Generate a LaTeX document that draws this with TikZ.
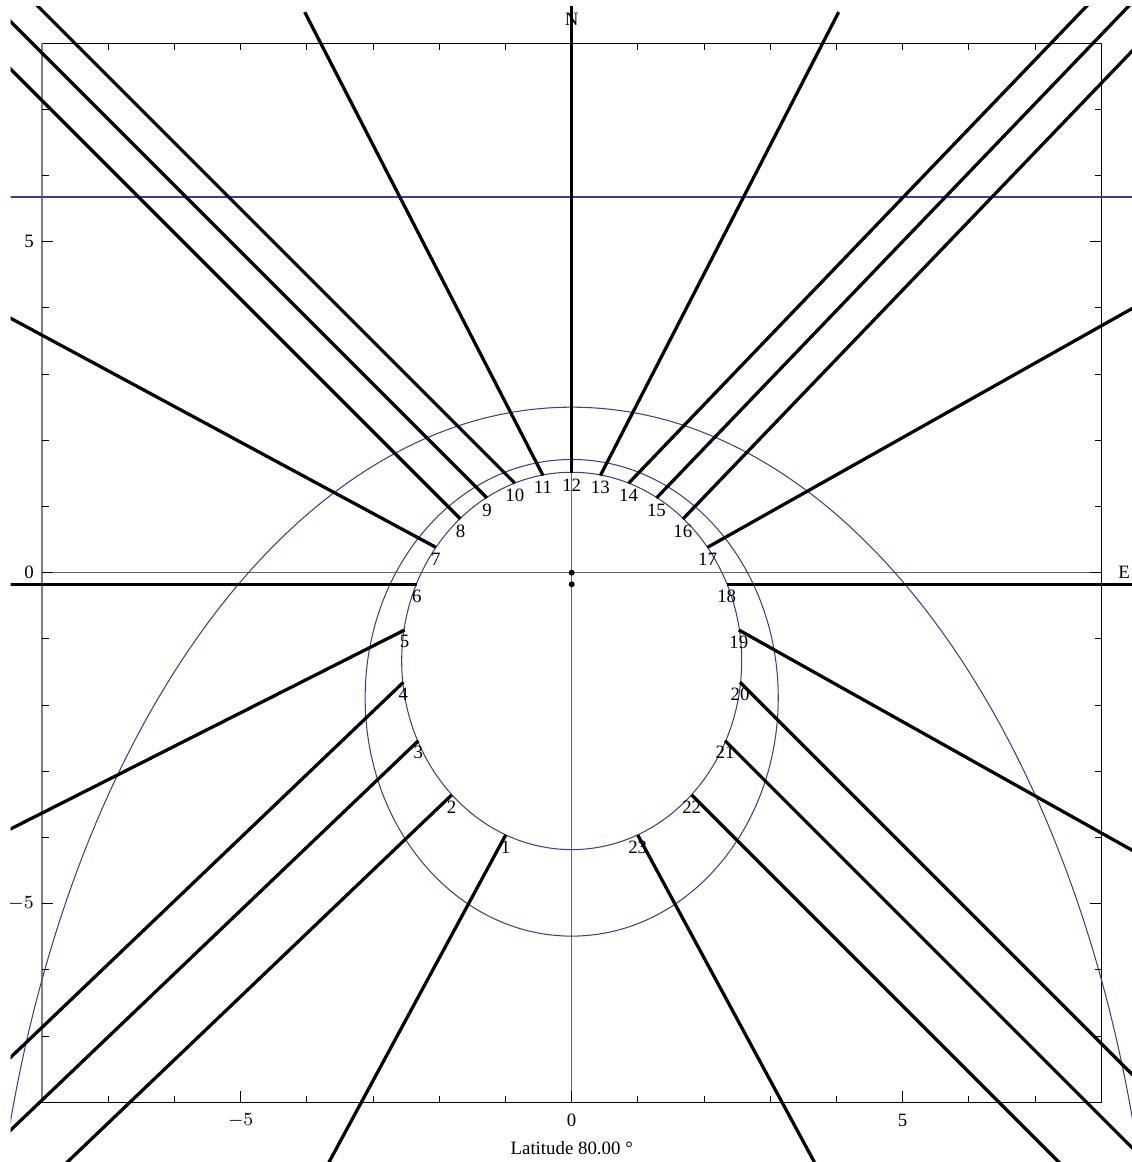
\documentclass[tikz,border=0pt]{standalone}
\usepackage{fontspec}
\setmainfont{Liberation Serif}
\usetikzlibrary{positioning}
\definecolor{plotblue}{rgb}{0.24,0.24,0.6}
\begin{document}
\begin{tikzpicture}[
    hour/.style={line width=1.4pt},
    thin line/.style={line width=0.45pt},
    curve/.style={plotblue, line width=0.45pt},
    lbl/.style={font=\fontsize{8.1}{9}\selectfont, inner sep=0pt},
  ]
  \useasboundingbox (-8.636,-8.902) rectangle (8.449,8.651);

  % frame, axes and ticks
  \draw[gray!80!black, thin line] (-8,0) -- (8,0);
  \draw[gray!80!black, thin line] (0,-8) -- (0,8);
  \draw[thin line] (-8,-8) rectangle (8,8);
  \draw[gray, line width=0.7pt] (-8,-8) -- (-8,8);
  \foreach \k in {-7,...,7} {
    \draw[thin line] (\k,-8) -- ++(0,0.1);
    \draw[thin line] (\k,8) -- ++(0,-0.1);
    \draw[thin line] (-8,\k) -- ++(0.1,0);
    \draw[thin line] (8,\k) -- ++(-0.1,0);
  }
  \foreach \k in {-5,0,5} {
    \draw[thin line] (\k,-8) -- ++(0,0.17);
    \draw[thin line] (-8,\k) -- ++(0.17,0);
    \draw[thin line] (8,\k) -- ++(-0.17,0);
  }
  \node[lbl] (xm5) at (-5,-8.27) {$-5$};
  \node[lbl] (x0) at (0,-8.27) {0};
  \node[lbl] (x5) at (5,-8.27) {5};
  \node[lbl, anchor=east] (y5) at (-8.12,5) {5};
  \node[lbl, anchor=east] (y0) at (-8.12,0) {0};
  \node[lbl, anchor=east] (ym5) at (-8.12,-5) {$-5$};
  \node[lbl] (title) at (0,-8.695) {Latitude 80.00 °};

  % hour points
  \coordinate (h1) at (-0.997,-3.962);
  \coordinate (h2) at (-1.813,-3.358);
  \coordinate (h3) at (-2.316,-2.538);
  \coordinate (h4) at (-2.543,-1.656);
  \coordinate (h5) at (-2.525,-0.866);
  \coordinate (h6) at (-2.341,-0.175);
  \coordinate (h7) at (-2.052,0.383);
  \coordinate (h8) at (-1.680,0.811);
  \coordinate (h9) at (-1.280,1.128);
  \coordinate (h10) at (-0.860,1.352);
  \coordinate (h11) at (-0.433,1.468);
  \coordinate (h12) at (0,1.502);
  \coordinate (h13) at (0.433,1.468);
  \coordinate (h14) at (0.860,1.352);
  \coordinate (h15) at (1.280,1.128);
  \coordinate (h16) at (1.680,0.811);
  \coordinate (h17) at (2.052,0.383);
  \coordinate (h18) at (2.341,-0.175);
  \coordinate (h19) at (2.525,-0.866);
  \coordinate (h20) at (2.543,-1.656);
  \coordinate (h21) at (2.316,-2.538);
  \coordinate (h22) at (1.813,-3.358);
  \coordinate (h23) at (0.997,-3.962);

  \begin{scope}
    \clip (-8.477,-9) rectangle (9,8.545);
    % curves
    \draw[curve] (-9,5.675) -- (9,5.675);
    \draw[curve] (0,-1.333) ellipse [x radius=2.568, y radius=2.85];
    \draw[curve] (0,-1.89) ellipse [x radius=3.12, y radius=3.60];
    \draw[curve] (0,-12.5) ellipse [x radius=8.83, y radius=15.0];
    % hour lines
    \path (h1) ++(-3.24,-6) coordinate (t1);
    \path (h2) ++(-8,-7.64) coordinate (t2);
    \path (h3) ++(-8,-7.64) coordinate (t3);
    \path (h4) ++(-8,-7.64) coordinate (t4);
    \path (h5) ++(-8,-4.04) coordinate (t5);
    \path (h6) ++(-8,0) coordinate (t6);
    \path (h7) ++(-8,4.31) coordinate (t7);
    \path (h8) ++(-8,8) coordinate (t8);
    \path (h9) ++(-8,8) coordinate (t9);
    \path (h10) ++(-8,8) coordinate (t10);
    \path (h11) ++(-3.6,7) coordinate (t11);
    \path (h12) ++(0,8) coordinate (t12);
    \path (h13) ++(3.6,7) coordinate (t13);
    \path (h14) ++(7.68,8) coordinate (t14);
    \path (h15) ++(7.68,8) coordinate (t15);
    \path (h16) ++(7.68,8) coordinate (t16);
    \path (h17) ++(8,4.5) coordinate (t17);
    \path (h18) ++(8,0) coordinate (t18);
    \path (h19) ++(8,-4.48) coordinate (t19);
    \path (h20) ++(8,-8) coordinate (t20);
    \path (h21) ++(8,-8) coordinate (t21);
    \path (h22) ++(8,-8) coordinate (t22);
    \path (h23) ++(3.24,-6) coordinate (t23);
    \foreach \h in {1,...,23} {
      \draw[hour] (h\h) -- (t\h);
    }
  \end{scope}

  % gnomon dots
  \fill (0,0) circle (0.045);
  \fill (0,-0.175) circle (0.045);

  % hour labels
  \foreach \h in {1,...,23} {
    \node[lbl, below=2.2pt of h\h] (l\h) {\h};
  }
  \node[lbl] (north) at (0,8.36) {N};
  \node[lbl] (east) at (8.345,0) {E};
\end{tikzpicture}
\end{document}
